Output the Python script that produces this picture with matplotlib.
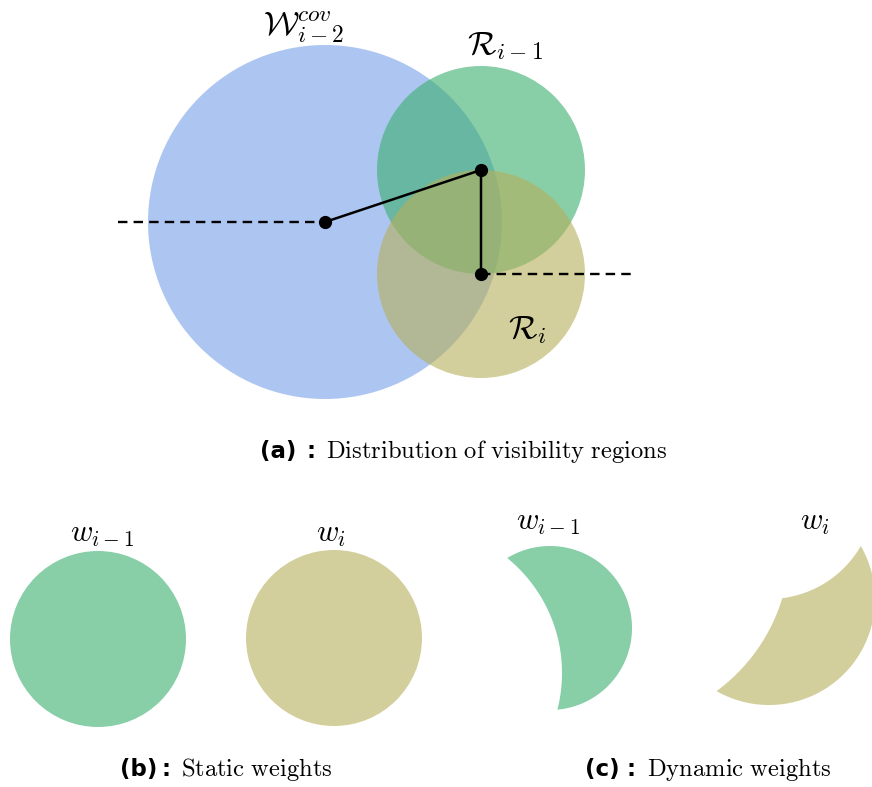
import numpy as np
import matplotlib
matplotlib.use("Agg")
import matplotlib.pyplot as plt
from matplotlib.patches import Circle

plt.rcParams["mathtext.fontset"] = "cm"

W, H = 872, 787

# colours (drawn with alpha over white)
BLUE, GREEN, OLIVE = "#5d8de5", "#39af6e", "#b6af5a"
ALPHA = 0.6

# (a) visibility regions: centre x, centre y, radius in image pixels
top_names = ["W_cov", "R_prev", "R_cur"]
top_cx = [325, 481, 481]
top_cy = [222, 170, 274]
top_r = [177, 104, 104]
top_colors = [BLUE, GREEN, OLIVE]
top_alpha = [0.5, ALPHA, ALPHA]

# centre-to-centre path and dashed reference lines
path_x = [325, 481, 481]
path_y = [222, 170, 274]
dash_left_x, dash_left_y = [118, 325], [222, 222]
dash_right_x, dash_right_y = [481, 636], [274, 274]

# (b) static weights
static_cx = [98, 334]
static_cy = [639, 638]
static_r = [88, 88]
static_colors = [GREEN, OLIVE]

# (c) dynamic weights: each shape is a disc minus other discs
dyn_keep = [(550, 628, 82), (769, 599, 106)]
dyn_cut = [[(414, 673, 148)], [(769, 493, 106), (610, 546, 180)]]
dyn_colors = [GREEN, OLIVE]

# captions: (tag, tag x, colon x, text, text x, baseline y)
captions = [("(a)", 260, 306, "Distribution of visibility regions", 326, 458),
            ("(b)", 120, 161, "Static weights", 181, 776),
            ("(c)", 585, 626, "Dynamic weights", 647, 776)]


def region(X, Y, keep, cuts):
    cx, cy, r = keep
    f = r - np.hypot(X - cx, Y - cy)
    for (bx, by, br) in cuts:
        f = np.minimum(f, np.hypot(X - bx, Y - by) - br)
    return f


fig = plt.figure(figsize=(W / 100, H / 100), dpi=100)
ax = fig.add_axes([0, 0, 1, 1])
ax.set_xlim(0, W)
ax.set_ylim(H, 0)
ax.set_aspect("equal")
ax.axis("off")

for cx, cy, r, c, a in zip(top_cx, top_cy, top_r, top_colors, top_alpha):
    ax.add_patch(Circle((cx, cy), r, facecolor=c, alpha=a, edgecolor="none"))

ax.plot(dash_left_x, dash_left_y, color="black", lw=1.7, ls=(0, (4, 2.6)))
ax.plot(dash_right_x, dash_right_y, color="black", lw=1.7, ls=(0, (4, 2.6)))
ax.plot(path_x, path_y, color="black", lw=1.8, solid_capstyle="round")
ax.plot(path_x, path_y, "o", color="black", ms=8.5)

ax.text(304, 34, r"$\mathcal{W}_{i-2}^{cov}$", fontsize=24, ha="center", va="baseline")
ax.text(505, 54, r"$\mathcal{R}_{i-1}$", fontsize=24, ha="center", va="baseline")
ax.text(527, 338, r"$\mathcal{R}_{i}$", fontsize=24, ha="center", va="baseline")

for cx, cy, r, c in zip(static_cx, static_cy, static_r, static_colors):
    ax.add_patch(Circle((cx, cy), r, facecolor=c, alpha=ALPHA, edgecolor="none"))

X, Y = np.meshgrid(np.arange(480, 880, 0.5), np.arange(500, 740, 0.5))
for keep, cuts, c in zip(dyn_keep, dyn_cut, dyn_colors):
    ax.contourf(X, Y, region(X, Y, keep, cuts), levels=[0, 1e6],
                colors=[c], alpha=ALPHA, antialiased=True)

ax.text(102, 542, r"$w_{i-1}$", fontsize=22, ha="center", va="baseline")
ax.text(331, 542, r"$w_{i}$", fontsize=22, ha="center", va="baseline")
ax.text(548, 530, r"$w_{i-1}$", fontsize=22, ha="center", va="baseline")
ax.text(815, 530, r"$w_{i}$", fontsize=22, ha="center", va="baseline")

bold = dict(family="DejaVu Sans", weight="bold", fontsize=16.5, va="baseline")
for tag, tx, colx, text, x, y in captions:
    ax.text(tx, y, tag, **bold)
    ax.text(colx, y, ":", **bold)
    ax.text(x, y, r"$\mathrm{" + text.replace(" ", r"\ ") + "}$",
            fontsize=17.7, va="baseline")

fig.savefig("out.png", dpi=100)
